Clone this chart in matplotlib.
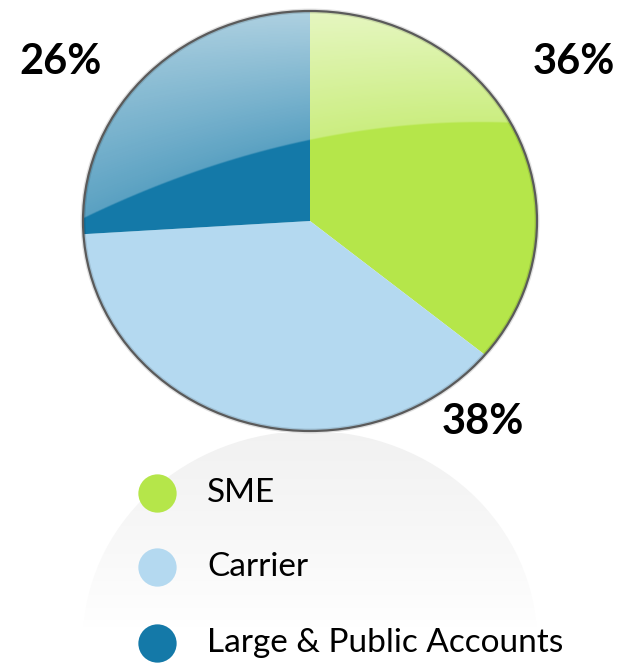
import matplotlib
matplotlib.use('Agg')
import matplotlib.pyplot as plt
from matplotlib.patches import Ellipse
import numpy as np

plt.rcParams['font.family'] = ['Lato', 'DejaVu Sans']

# segment shares (%)
segments = ['SME', 'Carrier', 'Large & Public Accounts']
shares = [36, 38, 26]
colors = ['#b5e64a', '#b4d9f0', '#1479a8']

W, H = 625, 665
fig = plt.figure(figsize=(W / 100, H / 100), dpi=100)

# pie geometry in pixels (slightly squashed ellipse)
cx, cy, rx, ry = 310, 221, 227, 210

# ---- pie axes: unit circle mapped onto the ellipse ----
ax = fig.add_axes([0, 0, 1, 1])
ax.pie(shares, colors=colors, startangle=90, counterclock=False,
       wedgeprops=dict(linewidth=0))
ax.set_aspect('auto')
ax.set_xlim(-cx / rx, (W - cx) / rx)
ax.set_ylim((cy - H) / ry, cy / ry)
ax.axis('off')

def to_data(px, py):
    return (np.asarray(px) - cx) / rx, (cy - np.asarray(py)) / ry

# glossy highlight over the top part of the pie
gx = np.linspace(cx - rx, cx + rx, 600)
gy = np.linspace(cy - ry, cy + ry, 600)
GX, GY = np.meshgrid(gx, gy)
coef = np.polyfit([87, 312, 507], [217, 140, 123], 2)
curve = np.polyval(coef, GX)
top = cy - ry
a = 0.66 - 0.36 * np.clip((GY - top) / (curve - top), 0, 1)
mask = np.clip((curve - GY) / 1.5, 0, 1)
rgba = np.ones(GX.shape + (4,))
rgba[..., 3] = a * mask
x0, y0 = to_data(cx - rx, cy - ry)
x1, y1 = to_data(cx + rx, cy + ry)
im = ax.imshow(rgba, extent=(x0, x1, y1, y0), origin='upper',
               interpolation='bilinear', aspect='auto', zorder=3)
clip = Ellipse((0, 0), 2, 2, transform=ax.transData, facecolor='none',
               edgecolor='none')
ax.add_patch(clip)
im.set_clip_path(clip)

# outline with a soft shadow
ax.add_patch(Ellipse((0, 0), 2, 2, facecolor='none', edgecolor='#000000',
                     linewidth=3.5, alpha=0.12, zorder=4))
ax.add_patch(Ellipse((0, 0), 2, 2, facecolor='none', edgecolor='#5a5a5a',
                     linewidth=1.6, zorder=5))

# ---- background axes in pixel coordinates ----
ov = fig.add_axes([0, 0, 1, 1], zorder=-1)
ov.set_xlim(0, W)
ov.set_ylim(H, 0)
ov.axis('off')

# faded reflection below the pie
ry_ref = cy + 2 * ry
rx_grid = np.linspace(cx - rx, cx + rx, 400)
ry_grid = np.linspace(cy + ry + 2, 627, 300)
RX, RY = np.meshgrid(rx_grid, ry_grid)
t = (RY - ry_grid[0]) / (ry_grid[-1] - ry_grid[0])
shade = 0.948 + 0.05 * t ** 1.2
ref = np.dstack([shade, shade, shade, np.ones_like(shade)])
rim = ov.imshow(ref, extent=(cx - rx, cx + rx, 627, cy + ry + 2),
                interpolation='bilinear', aspect='auto')
dome = Ellipse((cx, ry_ref), 2 * rx, 2 * ry, transform=ov.transData,
               facecolor='none', edgecolor='none')
ov.add_patch(dome)
rim.set_clip_path(dome)

ax2 = fig.add_axes([0, 0, 1, 1])
ax2.set_xlim(0, W)
ax2.set_ylim(H, 0)
ax2.axis('off')
ax2.patch.set_alpha(0)

# percentage labels
label_pos = [(574, 62), (483, 422), (61, 62)]
for v, (lx, ly) in zip(shares, label_pos):
    ax2.text(lx, ly, f'{v}%', ha='center', va='center', fontsize=30,
             fontweight='bold', color='black')

# legend
leg_y = [493, 567, 643]
for name, c, ly in zip(segments, colors, leg_y):
    ax2.scatter([157], [ly], s=760, color=c, linewidths=0)
    ax2.text(207, ly, name, ha='left', va='center', fontsize=24,
             color='black')

fig.savefig('out.png', dpi=100, facecolor='white')
